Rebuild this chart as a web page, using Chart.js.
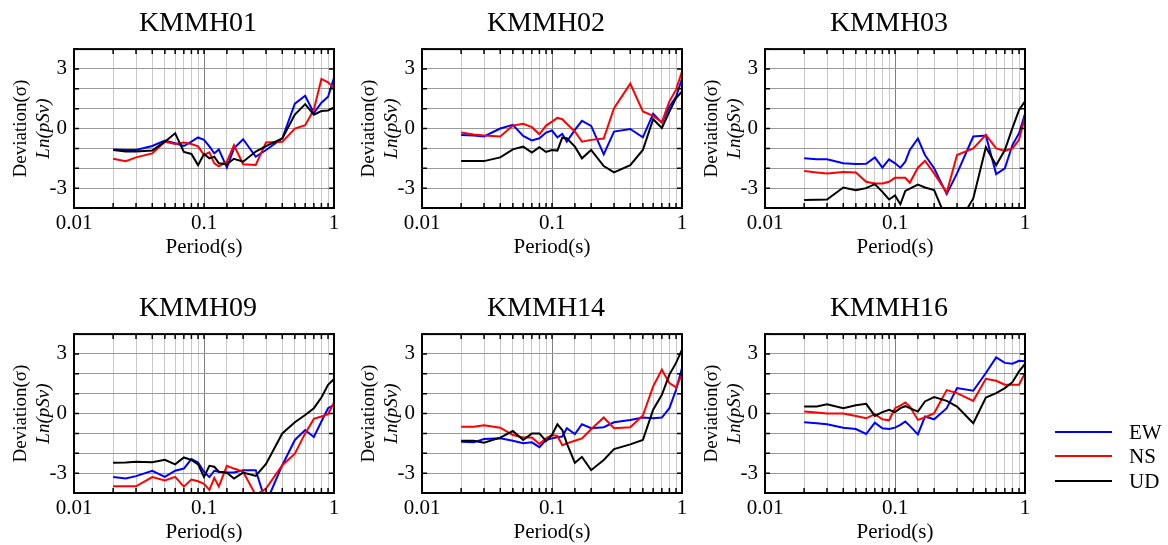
<!DOCTYPE html>
<html>
<head>
<meta charset="utf-8">
<script src="https://cdn.jsdelivr.net/npm/chart.js@4.4.0/dist/chart.umd.min.js"></script>
<style>
  body { margin: 0; background: #fff; }
  #wrap { position: relative; width: 1168px; height: 545px; overflow: hidden; }
  canvas { position: absolute; }
  #c1 { left: 0px; top: 0px; }
  #c2 { left: 348px; top: 0px; }
  #c3 { left: 691px; top: 0px; }
  #c4 { left: 0px; top: 285px; }
  #c5 { left: 348px; top: 285px; }
  #c6 { left: 691px; top: 285px; }
  .leg { position: absolute; left: 1055px; font: 21px "Liberation Serif", serif; color: #000; }
  .leg span.ln { position: absolute; left: 0; top: 11px; width: 57px; height: 2px; }
  .leg span.tx { position: absolute; left: 74px; top: 0; line-height: 24px; }
</style>
</head>
<body>
<div id="wrap">
  <canvas id="c1" width="396" height="270"></canvas>
  <canvas id="c2" width="396" height="270"></canvas>
  <canvas id="c3" width="396" height="270"></canvas>
  <canvas id="c4" width="396" height="270"></canvas>
  <canvas id="c5" width="396" height="270"></canvas>
  <canvas id="c6" width="396" height="270"></canvas>
  <div class="leg" style="top:420px"><span class="ln" style="background:#0000ff"></span><span class="tx">EW</span></div>
  <div class="leg" style="top:444px"><span class="ln" style="background:#ff0000"></span><span class="tx">NS</span></div>
  <div class="leg" style="top:469px"><span class="ln" style="background:#000000"></span><span class="tx">UD</span></div>
</div>
<script>
const periods = [0.02, 0.025, 0.03, 0.04, 0.05, 0.06, 0.07, 0.08, 0.09, 0.1, 0.11, 0.12, 0.13,
                 0.15, 0.17, 0.2, 0.25, 0.3, 0.4, 0.5, 0.6, 0.7, 0.8, 0.9, 1.0];

const KMMH01_EW = [-1.05, -1.08, -1.08, -0.88, -0.6, -0.74, -0.88, -0.66, -0.45, -0.57, -0.9, -1.25, -1.05,
                   -1.97, -1.0, -0.54, -1.42, -1.08, -0.5, 1.25, 1.65, 0.78, 1.3, 1.6, 2.55];
const KMMH01_NS = [-1.52, -1.64, -1.45, -1.25, -0.66, -0.78, -0.7, -0.78, -0.9, -1.33, -1.2, -1.75, -1.9,
                   -1.67, -0.84, -1.8, -1.83, -0.7, -0.67, 0.0, 0.17, 0.95, 2.5, 2.33, 2.04];
const KMMH01_UD = [-1.08, -1.15, -1.15, -1.11, -0.66, -0.24, -1.18, -1.28, -1.84, -1.28, -1.5, -1.42, -1.75,
                   -1.79, -1.52, -1.67, -1.16, -0.88, -0.5, 0.7, 1.23, 0.7, 0.88, 0.91, 1.06];

const KMMH02_EW = [-0.32, -0.35, -0.4, 0.0, 0.19, -0.37, -0.6, -0.49, -0.2, -0.1, -0.44, -0.27, -0.66,
                   -0.07, 0.39, 0.13, -1.3, -0.15, -0.02, -0.44, 0.74, 0.3, 1.1, 1.6, 2.5];
const KMMH02_NS = [-0.2, -0.3, -0.35, -0.4, 0.15, 0.24, 0.07, -0.29, 0.15, 0.35, 0.54, 0.47, 0.24,
                   -0.15, -0.66, -0.57, -0.5, 1.03, 2.26, 0.86, 0.64, 0.32, 1.37, 1.96, 2.87];
const KMMH02_UD = [-1.64, -1.64, -1.64, -1.45, -1.05, -0.91, -1.21, -0.94, -1.18, -1.08, -1.11, -0.46, -0.49,
                   -0.91, -1.5, -1.08, -1.89, -2.21, -1.84, -1.08, 0.47, 0.03, 0.86, 1.53, 1.87];

const KMMH03_EW = [-1.5, -1.55, -1.55, -1.75, -1.79, -1.77, -1.45, -1.97, -1.55, -1.75, -1.97, -1.67, -1.08,
                   -0.5, -1.33, -2.0, -3.3, -2.26, -0.4, -0.35, -2.29, -2.0, -0.83, -0.24, 0.74];
const KMMH03_NS = [-2.14, -2.21, -2.26, -2.19, -2.21, -2.68, -2.77, -2.77, -2.68, -2.48, -2.48, -2.48, -2.73,
                   -1.97, -1.62, -2.26, -3.22, -1.33, -1.0, -0.32, -1.0, -1.13, -1.0, -0.57, 0.6];
const KMMH03_UD = [-3.6, -3.58, -3.57, -2.97, -3.1, -3.0, -2.8, -3.19, -3.57, -3.37, -3.81, -3.14, -3.02,
                   -2.82, -2.97, -3.1, -4.6, -4.9, -3.52, -0.94, -1.85, -1.08, 0.02, 0.94, 1.37];

const KMMH09_EW = [-3.2, -3.27, -3.15, -2.88, -3.19, -2.88, -2.77, -2.29, -2.46, -2.93, -3.2, -2.88, -2.93,
                   -2.97, -2.97, -2.85, -2.85, -4.5, -2.6, -1.33, -0.83, -1.18, -0.4, 0.27, 0.44];
const KMMH09_NS = [-3.66, -3.66, -3.66, -3.2, -3.37, -3.19, -3.68, -3.32, -3.41, -3.54, -3.84, -3.24, -3.68,
                   -2.63, -2.77, -2.93, -4.1, -3.78, -2.6, -2.02, -1.0, -0.27, -0.15, -0.03, 0.56];
const KMMH09_UD = [-2.48, -2.46, -2.43, -2.45, -2.33, -2.56, -2.21, -2.34, -2.56, -3.19, -2.63, -2.68, -2.93,
                   -2.98, -3.27, -2.97, -3.14, -2.54, -1.0, -0.44, -0.07, 0.27, 0.81, 1.45, 1.74];

const KMMH14_EW = [-1.42, -1.45, -1.28, -1.25, -1.37, -1.5, -1.45, -1.69, -1.33, -1.25, -1.2, -1.16, -0.74,
                   -1.03, -0.54, -0.74, -0.69, -0.44, -0.32, -0.2, -0.24, -0.2, 0.27, 1.2, 2.29];
const KMMH14_NS = [-0.66, -0.67, -0.59, -0.71, -1.08, -1.2, -1.21, -1.53, -1.25, -1.08, -1.13, -1.59, -1.5,
                   -1.37, -1.25, -0.79, -0.2, -0.74, -0.69, -0.1, 1.37, 2.21, 1.53, 1.32, 1.96];
const KMMH14_UD = [-1.37, -1.37, -1.47, -1.21, -0.88, -1.33, -1.0, -1.0, -1.38, -1.08, -0.54, -0.83, -1.5,
                   -2.48, -2.18, -2.85, -2.34, -1.79, -1.55, -1.33, 0.19, 0.94, 1.96, 2.55, 3.22];

const KMMH16_EW = [-0.44, -0.49, -0.54, -0.71, -0.78, -1.03, -0.46, -0.74, -0.78, -0.71, -0.57, -0.4, -0.62,
                   -1.05, -0.15, -0.29, 0.27, 1.28, 1.15, 2.04, 2.83, 2.55, 2.51, 2.66, 2.63];
const KMMH16_NS = [0.1, 0.05, 0.0, 0.0, -0.12, -0.24, -0.03, -0.29, -0.34, 0.27, 0.4, 0.56, 0.35,
                   -0.32, -0.2, 0.02, 1.18, 1.03, 0.64, 1.75, 1.65, 1.45, 1.45, 1.45, 2.04];
const KMMH16_UD = [0.35, 0.35, 0.47, 0.27, 0.42, 0.49, -0.12, 0.07, 0.19, 0.07, 0.27, 0.37, 0.27,
                   0.1, 0.61, 0.83, 0.64, 0.35, -0.49, 0.81, 1.03, 1.28, 1.58, 2.12, 2.5];

const xLabels = [0.01, 0.1, 1];
const yLabels = [-3, 0, 3];

const SERIF = '"Liberation Serif", "Times New Roman", serif';

// black frame with small inward ticks, plus the two-line y title
const frame = {
  id: 'frame',
  afterDraw(chart) {
    const a = chart.chartArea, ctx = chart.ctx;
    const sx = chart.scales.x, sy = chart.scales.y;
    ctx.save();
    ctx.strokeStyle = '#000';
    ctx.lineWidth = 1.5;
    ctx.beginPath();
    sx.ticks.forEach(t => {
      const px = sx.getPixelForValue(t.value);
      ctx.moveTo(px, a.top); ctx.lineTo(px, a.top + 5);
      ctx.moveTo(px, a.bottom); ctx.lineTo(px, a.bottom - 5);
    });
    sy.ticks.forEach(t => {
      const py = sy.getPixelForValue(t.value);
      ctx.moveTo(a.left, py); ctx.lineTo(a.left + 5, py);
      ctx.moveTo(a.right, py); ctx.lineTo(a.right - 5, py);
    });
    ctx.stroke();
    ctx.lineWidth = 2;
    ctx.strokeRect(a.left, a.top, a.right - a.left, a.bottom - a.top);

    const cy = (a.top + a.bottom) / 2;
    ctx.fillStyle = '#000';
    ctx.textAlign = 'center';
    ctx.textBaseline = 'middle';
    ctx.translate(a.left - 53, cy);
    ctx.rotate(-Math.PI / 2);
    ctx.font = '19px ' + SERIF;
    ctx.fillText('Deviation(σ)', 0, 0);
    ctx.font = 'italic 19px ' + SERIF;
    ctx.fillText('Ln(pSv)', 0, 23);
    ctx.restore();
  }
};

function isDecade(v) {
  const l = Math.log10(v);
  return Math.abs(l - Math.round(l)) < 1e-6;
}

function makeChart(id, title, ew, ns, ud) {
  const pts = arr => periods.map((p, i) => ({ x: p, y: arr[i] }));
  const line = (label, arr, color) => ({
    label, data: pts(arr), borderColor: color, backgroundColor: color,
    borderWidth: 2, pointRadius: 0, tension: 0, fill: false
  });
  new Chart(document.getElementById(id), {
    type: 'line',
    data: {
      datasets: [
        line('UD', ud, '#000000'),
        line('NS', ns, '#ff0000'),
        line('EW', ew, '#0000ff')
      ]
    },
    options: {
      responsive: false,
      animation: false,
      layout: { padding: { left: 0, right: 0, top: 0, bottom: 10 } },
      plugins: {
        legend: { display: false },
        tooltip: { enabled: false },
        title: {
          display: true, text: title, color: '#000',
          font: { family: SERIF, size: 28, weight: 'normal' },
          padding: { top: 7, bottom: 8.5 }
        }
      },
      scales: {
        x: {
          type: 'logarithmic', min: 0.01, max: 1,
          afterFit: s => { s.height = 52; },
          border: { display: false },
          grid: {
            drawTicks: false,
            color: c => (c.tick && isDecade(c.tick.value)) ? '#808080' : '#c8c8c8'
          },
          ticks: {
            autoSkip: false, maxRotation: 0, padding: 3, color: '#000',
            font: { family: SERIF, size: 21 },
            callback: v => xLabels.some(d => Math.abs(d - v) < 1e-9) ? String(+v.toPrecision(6)) : ''
          },
          title: {
            display: true, text: 'Period(s)', color: '#000',
            font: { family: SERIF, size: 21 }, padding: { top: 0, bottom: 0 }
          }
        },
        y: {
          min: -4, max: 4,
          afterFit: s => { s.width = 74; },
          border: { display: false },
          grid: { drawTicks: false, color: '#999999' },
          ticks: {
            stepSize: 1, autoSkip: false, padding: 7, color: '#000',
            font: { family: SERIF, size: 21 },
            callback: v => yLabels.includes(v) ? String(v) : ''
          }
        },
        // empty right-hand box so the title centres like the reference
        yr: {
          position: 'right', min: -4, max: 4,
          afterFit: s => { s.width = 62; },
          border: { display: false },
          grid: { display: false },
          ticks: { display: false }
        }
      }
    },
    plugins: [frame]
  });
}

makeChart('c1', 'KMMH01', KMMH01_EW, KMMH01_NS, KMMH01_UD);
makeChart('c2', 'KMMH02', KMMH02_EW, KMMH02_NS, KMMH02_UD);
makeChart('c3', 'KMMH03', KMMH03_EW, KMMH03_NS, KMMH03_UD);
makeChart('c4', 'KMMH09', KMMH09_EW, KMMH09_NS, KMMH09_UD);
makeChart('c5', 'KMMH14', KMMH14_EW, KMMH14_NS, KMMH14_UD);
makeChart('c6', 'KMMH16', KMMH16_EW, KMMH16_NS, KMMH16_UD);
</script>
</body>
</html>
